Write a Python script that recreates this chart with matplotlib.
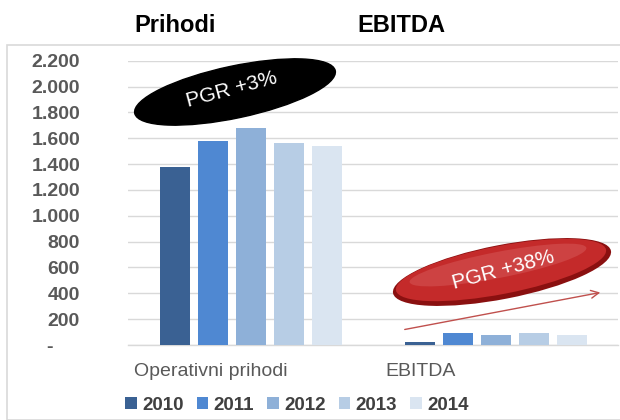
import matplotlib
matplotlib.use("Agg")
import matplotlib.pyplot as plt
import numpy as np
from matplotlib.patches import Ellipse, Rectangle

plt.rcParams['font.family'] = ['Liberation Sans', 'DejaVu Sans']

years = ['2010', '2011', '2012', '2013', '2014']
categories = ['Operativni prihodi', 'EBITDA']
prihodi = [1380, 1580, 1680, 1560, 1540]
ebitda = [20, 93, 75, 90, 75]
colors = ['#3A6193', '#4F88D2', '#8EB0D8', '#B7CDE5', '#DAE5F1']
yticks = list(range(0, 2201, 200))
ytick_labels = ['-     '] + [f"{v:,}".replace(',', '.') for v in yticks[1:]]

W, H = 620, 420
fig = plt.figure(figsize=(W / 100, H / 100), dpi=100)

# figure frame
fig.patches.append(Rectangle((7 / W, 0), 1, 1 - 45 / H, transform=fig.transFigure,
                             fill=False, edgecolor='#d9d9d9', linewidth=1.2, zorder=0))

ax = fig.add_axes([128 / W, (H - 345) / H, 490 / W, (345 - 60.7) / H])
ax.set_facecolor('none')

group_x = np.arange(len(categories))
step = 38 / 245
width = 30 / 245
for i, yr in enumerate(years):
    vals = [prihodi[i], ebitda[i]]
    ax.bar(group_x + (i - 2) * step, vals, width=width, color=colors[i], label=yr, zorder=3)

ax.set_xlim(-0.5, 1.5)
ax.set_ylim(0, 2200)
ax.set_yticks(yticks)
ax.set_yticklabels(ytick_labels, fontsize=14, fontweight='bold', color='#595959')
ax.tick_params(axis='y', length=0, pad=34.5)
ax.yaxis.grid(True, color='#d9d9d9', linewidth=1, zorder=0)
ax.set_axisbelow(True)
for s in ['top', 'right', 'left']:
    ax.spines[s].set_visible(False)
ax.spines['bottom'].set_color('#d9d9d9')
ax.spines['bottom'].set_linewidth(1)

# category labels (positioned as in the reference)
ax.set_xticks([-0.163, 0.694])
ax.set_xticklabels(categories, fontsize=14, color='#595959')
ax.tick_params(axis='x', length=0, pad=13)

# titles
fig.text(175 / W, 1 - 25 / H, 'Prihodi', ha='center', va='center', fontsize=17,
         fontweight='bold', color='black')
fig.text(401 / W, 1 - 25 / H, 'EBITDA', ha='center', va='center', fontsize=17,
         fontweight='bold', color='black')

# legend
fig.legend(loc='center', bbox_to_anchor=(297 / W, 1 - 405 / H), ncol=5, frameon=False,
           prop={'size': 13.5, 'weight': 'bold'}, labelcolor='#404040',
           handlelength=0.6, handleheight=0.6, handletextpad=0.3, columnspacing=0.7)

# overlay for annotations in pixel coordinates
ov = fig.add_axes([0, 0, 1, 1])
ov.set_xlim(0, W)
ov.set_ylim(H, 0)
ov.axis('off')
ov.patch.set_alpha(0)

ov.add_patch(Ellipse((235, 92), 205, 52, angle=-12, facecolor='black', edgecolor='black', zorder=5))
ov.text(232, 90, 'PGR +3%', rotation=15, ha='center', va='center', color='white',
        fontsize=15, zorder=6)

ov.add_patch(Ellipse((502, 272), 222, 54, angle=-11, facecolor='#8a1010', edgecolor='none', zorder=5))
ov.add_patch(Ellipse((501, 270), 214, 48, angle=-11, facecolor='#c42a2a', edgecolor='none', zorder=5))
ov.add_patch(Ellipse((498, 265), 180, 26, angle=-11, facecolor='#d65a5a', edgecolor='none', alpha=0.5, zorder=5))
ov.text(503, 270, 'PGR +38%', rotation=15, ha='center', va='center', color='white',
        fontsize=15, zorder=6)

ov.annotate('', xy=(603, 292), xytext=(402, 330),
            arrowprops=dict(arrowstyle='->', color='#c0504d', lw=1.0, mutation_scale=14), zorder=4)

fig.savefig('out.png', dpi=100)
